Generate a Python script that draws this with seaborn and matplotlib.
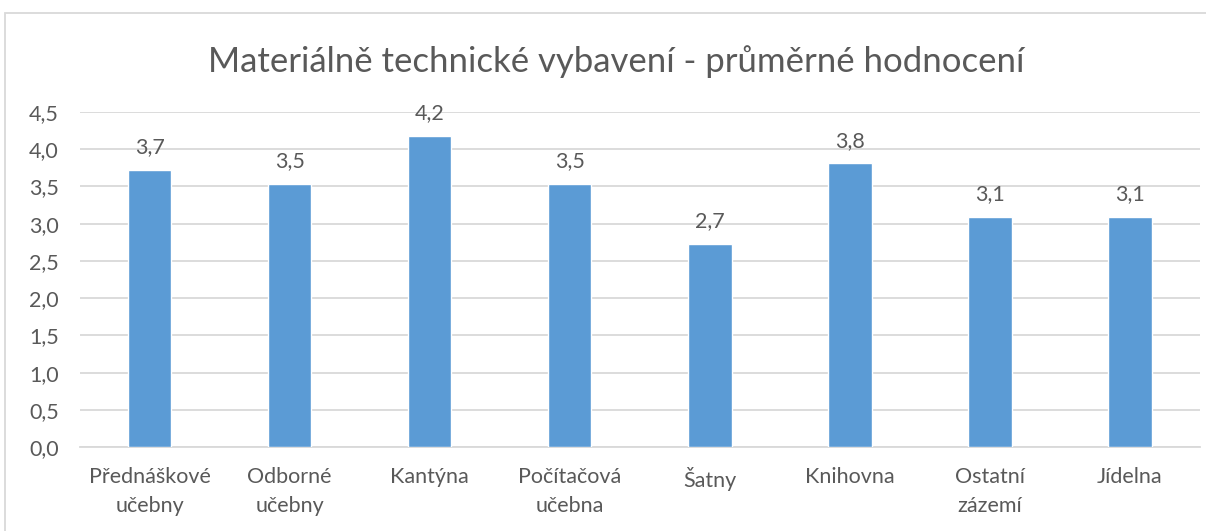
import pandas as pd
import matplotlib.pyplot as plt
import seaborn as sns
from matplotlib.patches import Rectangle

# Data
categories = ["Přednáškové\nučebny", "Odborné\nučebny", "Kantýna", "Počítačová\nučebna",
              "Šatny", "Knihovna", "Ostatní\nzázemí", "Jídelna"]
values = [3.72, 3.54, 4.18, 3.54, 2.73, 3.81, 3.09, 3.09]
yticks = [0.0, 0.5, 1.0, 1.5, 2.0, 2.5, 3.0, 3.5, 4.0, 4.5]

df = pd.DataFrame({"kategorie": categories, "hodnoceni": values})

sns.set_style("white")
plt.rcParams['font.family'] = ['Lato', 'DejaVu Sans']
text_color = "#595959"
grid_color = "#d9d9d9"

fig = plt.figure(figsize=(12.06, 5.31), dpi=100)
ax = fig.add_axes([0.066, 0.158, 0.929, 0.631])

sns.barplot(data=df, x="kategorie", y="hodnoceni", color="#5B9BD5",
            width=0.31, saturation=1, ax=ax, zorder=3)

# Value labels
for i, v in enumerate(values):
    ax.text(i, v + 0.17, f"{v:.1f}".replace(".", ","), ha="center", va="bottom",
            fontsize=15.5, color=text_color)

ax.set_ylim(0, 4.5)
ax.set_yticks(yticks)
ax.set_yticklabels([f"{t:.1f}".replace(".", ",") for t in yticks],
                   fontsize=15.5, color=text_color)
ax.set_xlim(-0.5, len(categories) - 0.5)
ax.set_xticks(range(len(categories)))
ax.set_xticklabels(categories, fontsize=15.5, color=text_color, linespacing=1.6)
ax.yaxis.grid(True, color=grid_color, linewidth=1.3, zorder=0)
ax.set_axisbelow(True)
ax.set_xlabel("")
ax.set_ylabel("")
for s in ["top", "right", "left"]:
    ax.spines[s].set_visible(False)
ax.spines["bottom"].set_color(grid_color)
ax.spines["bottom"].set_linewidth(1.3)
ax.tick_params(axis="both", length=0)
ax.tick_params(axis="y", pad=15)
ax.tick_params(axis="x", pad=14)

fig.suptitle("Materiálně technické vybavení - průměrné hodnocení",
             x=0.511, y=0.915, fontsize=25, color=text_color)

# outer chart border
fig.patches.append(Rectangle((5 / 1206, -0.01), 1.02, 1 - 13 / 531 + 0.01,
                             transform=fig.transFigure, fill=False,
                             edgecolor=grid_color, linewidth=1.3))

fig.savefig("out.png", dpi=100)
